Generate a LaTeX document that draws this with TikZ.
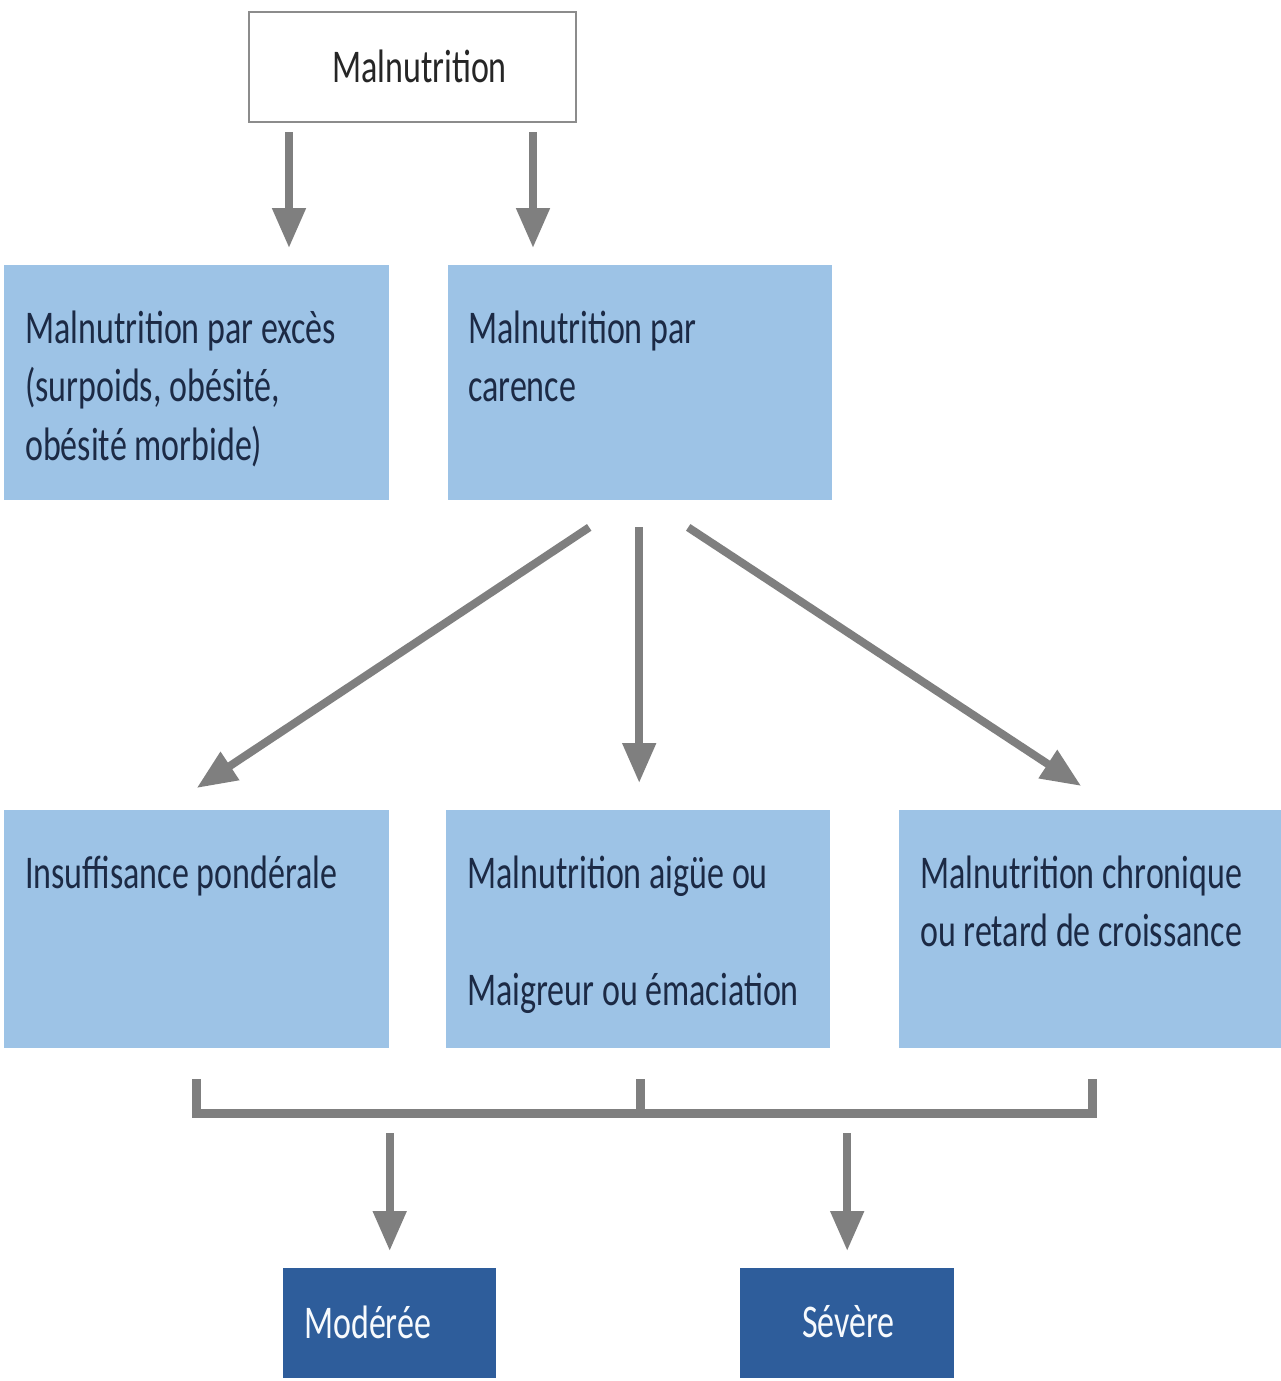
\documentclass[tikz,border=0pt]{standalone}
\usepackage{fontspec}
\setmainfont{Carlito}
\usetikzlibrary{arrows.meta,calc}
\definecolor{lblue}{HTML}{9DC3E6}
\definecolor{dblue}{HTML}{2E5D9B}
\definecolor{agray}{HTML}{7F7F7F}
\definecolor{navy}{HTML}{1C2A45}
\newcommand{\stretchtext}[1]{\scalebox{1}[1.38]{\begin{tabular}[t]{@{}l@{}}#1\end{tabular}}}
\begin{document}
\begin{tikzpicture}[x=1pt,y=-1pt,
  lightbox/.style={fill=lblue, inner sep=0, anchor=north west},
  darkbox/.style={fill=dblue, inner sep=0, anchor=north west, minimum width=213, minimum height=110},
  whitebox/.style={fill=white, draw=agray!90, line width=2pt, inner sep=0, anchor=north west},
  txt/.style={inner sep=0, anchor=base west, text=navy, font=\fontsize{34}{42.4}\selectfont},
  wtxt/.style={txt, text=white!92!lblue},
  arr/.style={draw=agray, line width=8pt, -{Triangle[length=40pt,width=32pt]}},
  brk/.style={draw=agray, line width=9pt}]
\useasboundingbox[fill=white] (0,0) rectangle (1281,1381);

% boxes
\node[whitebox, minimum width=327, minimum height=110] (top) at (248,11) {};
\node[lightbox, minimum width=385, minimum height=235] (excess) at (4,265) {};
\node[lightbox, minimum width=384, minimum height=235] (carence) at (448,265) {};
\node[lightbox, minimum width=385, minimum height=238] (insuf) at (4,810) {};
\node[lightbox, minimum width=384, minimum height=238] (aigue) at (446,810) {};
\node[lightbox, minimum width=382, minimum height=238] (chron) at (899,810) {};
\node[darkbox] (moderee) at (283,1268) {};
\node[darkbox, minimum width=214] (severe) at (740,1268) {};

% texts
\node[txt, text=black!85] (toptxt) at (332,82) {\stretchtext{Malnutrition}};
\node[txt] (excesstxt) at (25,343) {\stretchtext{Malnutrition par excès\\(surpoids, obésité,\\obésité morbide)}};
\node[txt] (carencetxt) at (468,343) {\stretchtext{Malnutrition par\\carence}};
\node[txt] (insuftxt) at (25,888) {\stretchtext{Insuffisance pondérale}};
\node[txt] (aiguetxt) at (467,888) {\stretchtext{Malnutrition aigüe ou\\ \\Maigreur ou émaciation}};
\node[txt] (chrontxt) at (920,888) {\stretchtext{Malnutrition chronique\\ou retard de croissance}};
\node[wtxt] (modereetxt) at (304,1338) {\stretchtext{Modérée}};
\node[wtxt] (severetxt) at (802,1337) {\stretchtext{Sévère}};

% top arrows
\draw[arr] ($(top.south west)+(41,9)$) -- ($(excess.north west)+(285,-17)$);
\draw[arr] ($(top.south west)+(285,9)$) -- ($(carence.north west)+(85,-17)$);

% fan arrows
\draw[arr] ($(carence.south)+(-51,27)$) -- ($(insuf.north)+(0,-22)$);
\draw[arr] ($(carence.south)+(-1,27)$) -- ($(aigue.north)+(1,-27)$);
\draw[arr] ($(carence.south)+(48,27)$) -- ($(chron.north)+(-9,-24)$);

% bracket
\coordinate (bA) at ($(insuf.south)+(0,31)$);
\coordinate (bAl) at ($(insuf.south)+(0,65)$);
\coordinate (bB) at ($(aigue.south)+(2,31)$);
\coordinate (bBl) at ($(aigue.south)+(2,65)$);
\coordinate (bC) at ($(chron.south)+(2,31)$);
\coordinate (bCl) at ($(chron.south)+(2,65)$);
\draw[brk] (bA) -- (bAl) -- (bCl) -- (bC);
\draw[brk] (bB) -- (bBl);

% bottom arrows
\coordinate (mstart) at (moderee.north |- 0,1133);
\coordinate (sstart) at (severe.north |- 0,1133);
\draw[arr] (mstart) -- ($(moderee.north)+(0,-17)$);
\draw[arr] (sstart) -- ($(severe.north)+(0,-17)$);
\end{tikzpicture}
\end{document}
